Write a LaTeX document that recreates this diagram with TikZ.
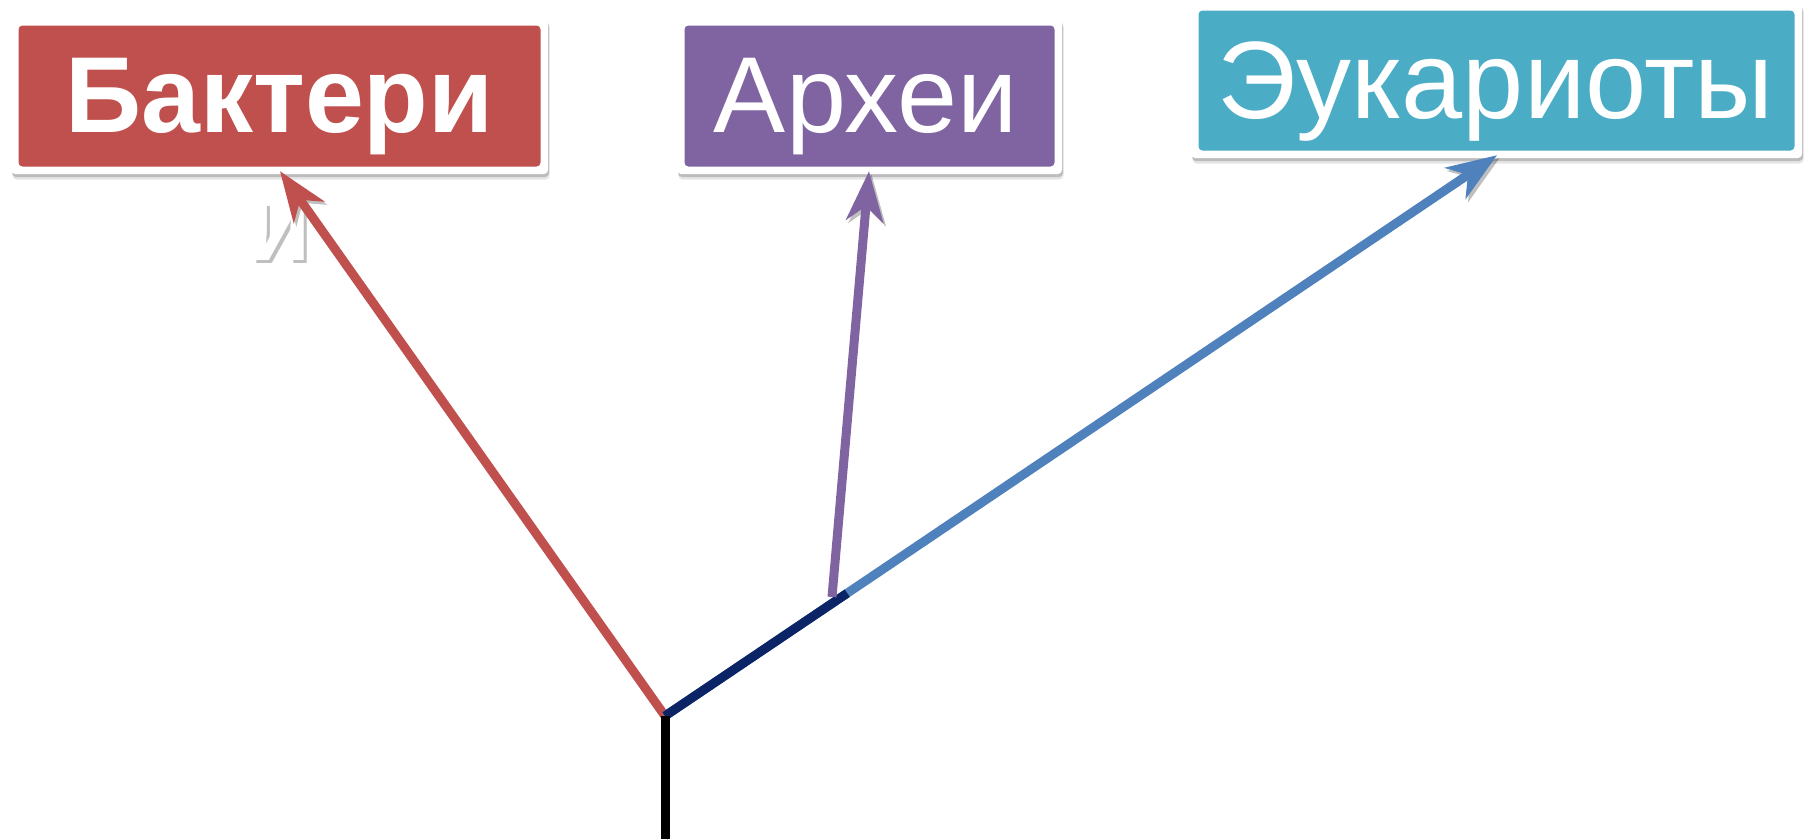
\documentclass[tikz,border=0pt]{standalone}
\usepackage{fontspec}
\setmainfont{Liberation Sans}
\usetikzlibrary{arrows.meta,calc}
\definecolor{bred}{HTML}{C0504D}
\definecolor{bpurple}{HTML}{8064A2}
\definecolor{bteal}{HTML}{4BACC6}
\definecolor{bblue}{HTML}{4F81BD}
\definecolor{bnavy}{HTML}{0A2466}
\tikzset{
  boxstyle/.style={rectangle, rounded corners=4pt, fill=white, inner sep=0pt,
    preaction={fill=black, opacity=0.10, transform canvas={shift={(1.5pt,-5.5pt)}}},
    preaction={fill=black, opacity=0.18, transform canvas={shift={(1pt,-3pt)}}},
    path picture={\fill[#1] ([shift={(7.5pt,7.5pt)}]path picture bounding box.south west)
      rectangle ([shift={(-7.5pt,-7.5pt)}]path picture bounding box.north east);}},
  lbl/.style={inner sep=0pt, text=white, anchor=base},
  boldfont/.style={font=\bfseries\fontsize{108}{120}\selectfont\addfontfeature{FakeStretch=0.98}},
  bigfont/.style={font=\fontsize{108}{120}\selectfont},
  linkshadow/.style={preaction={draw=black, opacity=0.25, transform canvas={shift={(2.5pt,-3pt)}}}},
  arrowline/.style={line width=9pt, -{Stealth[length=50pt,width=37pt,inset=15pt]}, linkshadow},
  plainline/.style={line width=9pt, linkshadow}
}
\begin{document}
\begin{tikzpicture}[x=1pt,y=-1pt]
\useasboundingbox (0,0) rectangle (1808,839);
% boxes
\node[boxstyle=bred, minimum width=537pt, minimum height=156pt] (bact) at (279.5,96) {};
\node[boxstyle=bpurple, minimum width=385pt, minimum height=156pt] (arch) at (869.5,96) {};
\node[boxstyle=bteal, minimum width=611pt, minimum height=155pt] (euk) at (1496.5,80.5) {};
% labels
\node[lbl, boldfont] (bactT) at (279.5,132) {Бактери};
\node[lbl, boldfont, text=black, opacity=0.25] (bactS) at (282.5,263.5) {и};
\node[lbl, boldfont] (bactT2) at (279.5,260) {и};
\node[lbl, bigfont] (archT) at (866,132) {Археи};
\node[lbl, font=\fontsize{110}{120}\selectfont] (eukT) at (1495.5,118) {Эукариоты};
% tree points
\coordinate (J) at (665,716);
\coordinate (R) at (665,839);
\coordinate (tB) at ($(bact.south)+(0.5,-3)$);
\coordinate (tA) at ($(arch.south)+(-0.5,-3)$);
\coordinate (tE) at ($(euk.south)+(0.5,-3)$);
\coordinate (A0) at (832,597);
\coordinate (N) at ($(J)!0.219!(tE)$);
% connectors
\draw[arrowline, bred] (J) -- (tB);
\draw[arrowline, bblue] (J) -- (tE);
\draw[plainline, bnavy] (J) -- (N);
\draw[arrowline, bpurple] (A0) -- (tA);
\draw[plainline, black] (J) -- (R);
\end{tikzpicture}
\end{document}
